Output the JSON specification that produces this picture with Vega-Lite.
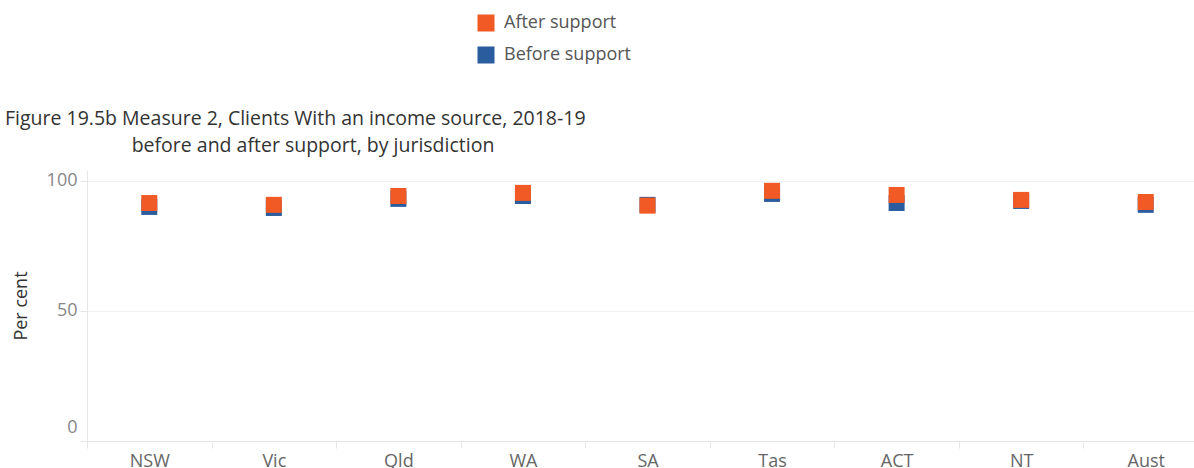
{
  "$schema": "https://vega.github.io/schema/vega-lite/v6.json",
  "autosize": {"type": "none"},
  "width": 1107,
  "height": 271,
  "padding": {"left": 87, "top": 170, "right": 0, "bottom": 27},
  "background": "white",
  "config": {
    "font": "Open Sans",
    "view": {"stroke": null}
  },
  "title": {
    "text": "Figure 19.5b Measure 2, Clients With an income source, 2018-19",
    "subtitle": "\u200b\u00a0\u00a0\u00a0\u00a0\u00a0\u00a0\u00a0\u00a0\u00a0\u00a0\u00a0\u00a0\u00a0\u00a0\u00a0\u00a0\u00a0\u00a0\u00a0\u00a0\u00a0\u00a0\u00a0\u00a0\u00a0before and after support, by jurisdiction",
    "anchor": "start",
    "frame": "group",
    "dx": -82,
    "offset": -142,
    "fontSize": 19.5,
    "fontWeight": "normal",
    "color": "#333333",
    "subtitleFontSize": 19.5,
    "subtitleColor": "#333333",
    "subtitlePadding": 7
  },
  "data": {
    "values": [
      {"jurisdiction": "NSW", "stage": "Before support", "value": 90.0},
      {"jurisdiction": "Vic", "stage": "Before support", "value": 89.6},
      {"jurisdiction": "Qld", "stage": "Before support", "value": 93.1},
      {"jurisdiction": "WA", "stage": "Before support", "value": 94.2},
      {"jurisdiction": "SA", "stage": "Before support", "value": 90.8},
      {"jurisdiction": "Tas", "stage": "Before support", "value": 95.0},
      {"jurisdiction": "ACT", "stage": "Before support", "value": 91.5},
      {"jurisdiction": "NT", "stage": "Before support", "value": 92.3},
      {"jurisdiction": "Aust", "stage": "Before support", "value": 90.8},
      {"jurisdiction": "NSW", "stage": "After support", "value": 91.5},
      {"jurisdiction": "Vic", "stage": "After support", "value": 90.8},
      {"jurisdiction": "Qld", "stage": "After support", "value": 94.2},
      {"jurisdiction": "WA", "stage": "After support", "value": 95.4},
      {"jurisdiction": "SA", "stage": "After support", "value": 90.5},
      {"jurisdiction": "Tas", "stage": "After support", "value": 96.2},
      {"jurisdiction": "ACT", "stage": "After support", "value": 94.6},
      {"jurisdiction": "NT", "stage": "After support", "value": 92.7},
      {"jurisdiction": "Aust", "stage": "After support", "value": 91.9}
    ]
  },
  "mark": {"type": "point", "shape": "square", "filled": true, "size": 256, "opacity": 1},
  "encoding": {
    "x": {
      "field": "jurisdiction",
      "type": "nominal",
      "sort": ["NSW", "Vic", "Qld", "WA", "SA", "Tas", "ACT", "NT", "Aust"],
      "scale": {"type": "band", "range": [0, 1121], "paddingInner": 0, "paddingOuter": 0},
      "axis": {
        "title": null,
        "labelAngle": 0,
        "labelFontSize": 18,
        "labelColor": "#666666",
        "labelPadding": 4,
        "tickBand": "extent",
        "tickSize": 7,
        "tickColor": "#e6e6e6",
        "domainColor": "#e6e6e6",
        "grid": false
      }
    },
    "y": {
      "field": "value",
      "type": "quantitative",
      "scale": {"domain": [0, 104.2], "nice": false, "zero": false},
      "axis": {
        "title": "Per cent",
        "titleFontSize": 18,
        "titleFontWeight": "normal",
        "titleColor": "#333333",
        "titlePadding": 16,
        "values": [0, 50, 100],
        "labelFontSize": 18,
        "labelColor": "#888888",
        "labelPadding": 3,
        "labelFlush": true,
        "labelFlushOffset": -5,
        "tickSize": 7,
        "tickColor": "#e6e6e6",
        "domainColor": "#e6e6e6",
        "gridColor": "#f0f0f0"
      }
    },
    "color": {
      "field": "stage",
      "type": "nominal",
      "scale": {"domain": ["After support", "Before support"], "range": ["#F15A24", "#2B5C9E"]},
      "legend": {
        "title": null,
        "orient": "none",
        "legendX": 390,
        "legendY": -156,
        "symbolType": "square",
        "symbolSize": 289,
        "symbolStrokeWidth": 0,
        "labelFontSize": 18,
        "labelColor": "#555555",
        "labelOffset": 9,
        "rowPadding": 14
      }
    },
    "order": {"field": "stage", "sort": "descending"}
  }
}
